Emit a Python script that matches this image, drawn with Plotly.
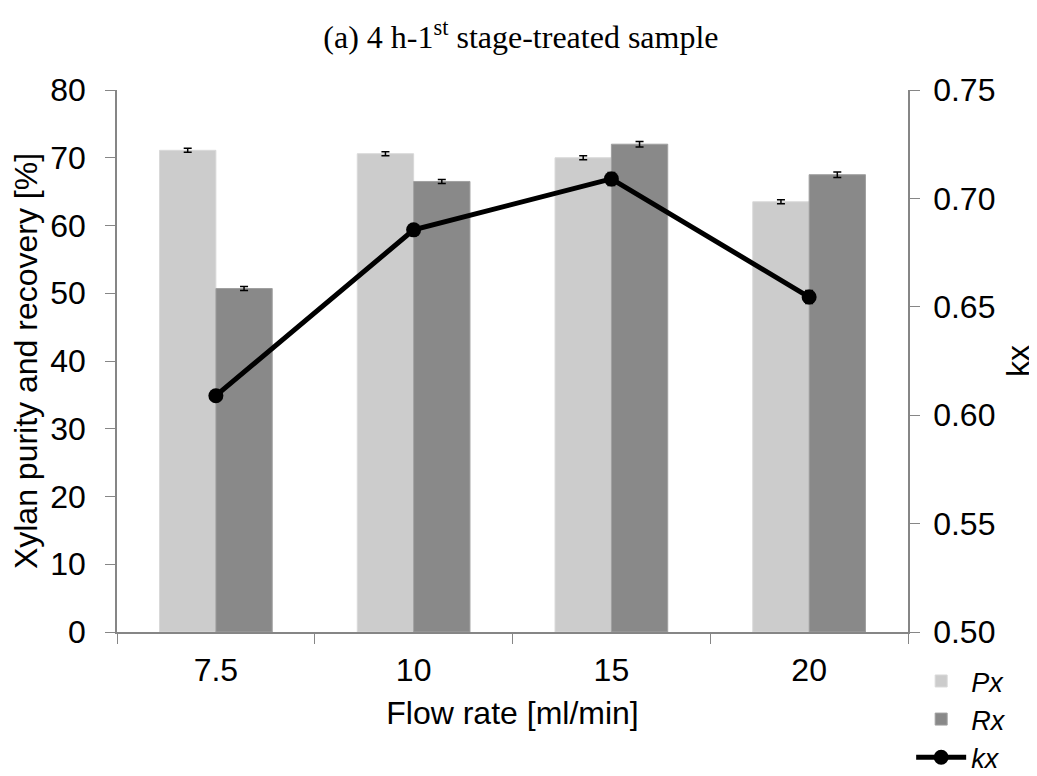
import plotly.graph_objects as go

categories = ["7.5", "10", "15", "20"]
px_vals = [71.1, 70.6, 70.0, 63.5]
px_err = [0.3, 0.3, 0.3, 0.3]
rx_vals = [50.7, 66.5, 72.0, 67.5]
rx_err = [0.3, 0.3, 0.4, 0.4]
kx_vals = [0.609, 0.6855, 0.709, 0.6545]
kx_err = [0.001, 0.001, 0.003, 0.003]

font_sans = "Liberation Sans, Arial, sans-serif"
axis_gray = "#868686"
FS = 32

fig = go.Figure()
fig.add_trace(go.Bar(
    x=categories, y=px_vals, name="Px",
    marker=dict(color="#cccccc", line=dict(color="#d9d9d9", width=1)),
    error_y=dict(type="data", array=px_err, color="black", thickness=1.5, width=4),
))
fig.add_trace(go.Bar(
    x=categories, y=rx_vals, name="Rx",
    marker=dict(color="#898989", line=dict(color="#a0a0a0", width=1)),
    error_y=dict(type="data", array=rx_err, color="black", thickness=1.5, width=4),
))
fig.add_trace(go.Scatter(
    x=categories, y=kx_vals, name="kx", yaxis="y2",
    mode="lines+markers",
    line=dict(color="black", width=5),
    marker=dict(color="black", size=15),
    error_y=dict(type="data", array=kx_err, color="black", thickness=1.5, width=4),
))

# page body has an 8px margin, so the figure is drawn at (8, 8)
fig.update_layout(
    width=1029, height=768,
    paper_bgcolor="white", plot_bgcolor="white",
    margin=dict(l=109, r=129, t=82, b=144, autoexpand=False),
    barmode="group", bargap=0.43, bargroupgap=0,
    title=dict(
        text="(a) 4 h-1<sup>st</sup> stage-treated sample",
        font=dict(family="Liberation Serif, Times New Roman, serif", size=FS, color="black"),
        x=0.4985, xanchor="center", y=0.962, yanchor="middle",
    ),
    font=dict(family=font_sans, size=FS, color="black"),
    xaxis=dict(
        type="category", tickson="boundaries", ticks="outside", ticklen=10,
        tickcolor=axis_gray, showline=True, linecolor=axis_gray, linewidth=1.5,
        showgrid=False, ticklabelstandoff=9, automargin=False,
        title=dict(text="Flow rate [ml/min]", font=dict(size=FS), standoff=14),
        tickfont=dict(size=FS),
    ),
    yaxis=dict(
        range=[0, 80], dtick=10, ticks="outside", ticklen=10, tickcolor=axis_gray,
        showline=True, linecolor=axis_gray, linewidth=1.5, showgrid=False,
        zeroline=False, ticklabelstandoff=13, automargin=False,
        title=dict(text="Xylan purity and recovery [%]", font=dict(size=FS), standoff=8),
        tickfont=dict(size=FS),
    ),
    yaxis2=dict(
        range=[0.5, 0.75], dtick=0.05, tickformat=".2f", overlaying="y", side="right",
        ticks="outside", ticklen=10, tickcolor=axis_gray,
        showline=True, linecolor=axis_gray, linewidth=1.5, showgrid=False,
        zeroline=False, ticklabelstandoff=7, automargin=False,
        title=dict(text="kx", font=dict(size=FS), standoff=12),
        tickfont=dict(size=FS),
    ),
    legend=dict(
        x=1.004, xanchor="left", y=-0.046, yanchor="top",
        font=dict(family=font_sans, size=27, style="italic"),
        bgcolor="rgba(0,0,0,0)", tracegroupgap=0, itemwidth=50,
    ),
    showlegend=True,
)

fig.write_html("out.html")
